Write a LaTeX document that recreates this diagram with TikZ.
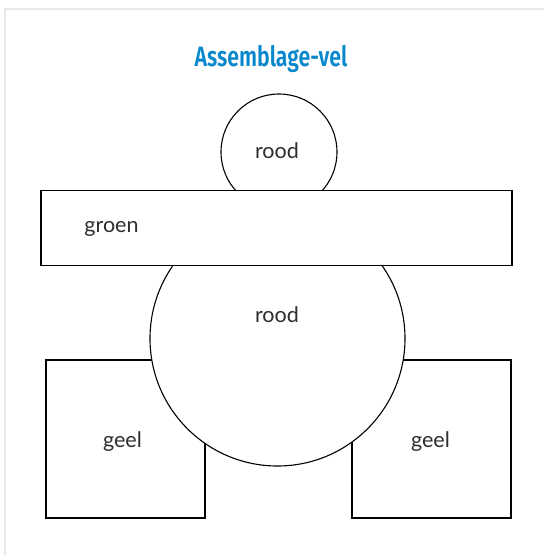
\documentclass[tikz,border=0pt]{standalone}
\usepackage{fontspec}
\setmainfont{Lato}
\newfontfamily\titlefont{Fira Sans SemiBold}
\definecolor{frameGray}{RGB}{232,232,232}
\definecolor{titleBlue}{RGB}{8,136,204}
\begin{document}
\begin{tikzpicture}[x=1pt,y=-1pt,
  part/.style={draw=black,fill=white,line width=1.1pt},
  lbl/.style={font=\fontsize{21.5}{24}\selectfont,text=black!82,anchor=base,inner sep=0pt}]
\useasboundingbox (0,0) rectangle (544,555);
% sheet frame (top and left edges)
\draw[frameGray,line width=2pt] (5,555) -- (5,8.5) -- (544,8.5);
% title, set tall and narrow
\node[font=\titlefont\fontsize{28}{30}\selectfont,text=titleBlue,xscale=0.76,transform shape] (title) at (271,59) {Assemblage-vel};
% yellow squares (behind the body)
\node[part,minimum width=159,minimum height=158,inner sep=0pt] (sqL) at (125.5,439) {};
\node[part,minimum width=159,minimum height=158,inner sep=0pt] (sqR) at (431.5,439) {};
% red body
\node[part,circle,minimum size=255,inner sep=0pt] (body) at (277.5,338.5) {};
% red head
\node[part,circle,minimum size=116,inner sep=0pt] (head) at (279,152) {};
% green bar
\node[part,minimum width=471,minimum height=74.5,inner sep=0pt] (bar) at (276.5,227.8) {};
% labels, placed on their baselines
\node[lbl] (tHead) at (277,158.3) {rood};
\node[lbl] (tBar) at (111.5,232.3) {groen};
\node[lbl] (tBody) at (277,322.3) {rood};
\node[lbl] (tSqL) at (122.5,447) {geel};
\node[lbl] (tSqR) at (430.5,447) {geel};
\end{tikzpicture}
\end{document}
